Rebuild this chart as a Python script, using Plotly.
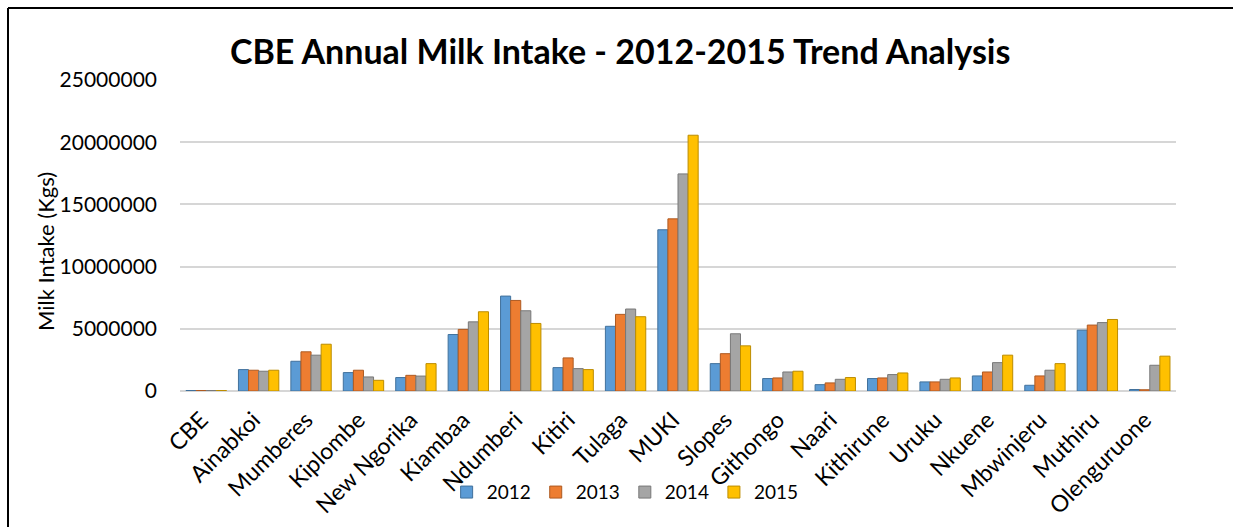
import plotly.graph_objects as go

categories = ["CBE", "Ainabkoi", "Mumberes", "Kiplombe", "New Ngorika", "Kiambaa",
              "Ndumberi", "Kitiri", "Tulaga", "MUKI", "Slopes", "Githongo", "Naari",
              "Kithirune", "Uruku", "Nkuene", "Mbwinjeru", "Muthiru", "Olenguruone"]

y2012 = [40000, 1720000, 2390000, 1480000, 1080000, 4540000, 7630000, 1880000, 5200000,
         12960000, 2200000, 1000000, 510000, 1000000, 730000, 1210000, 460000, 4890000, 120000]
y2013 = [40000, 1670000, 3150000, 1670000, 1260000, 4950000, 7280000, 2660000, 6160000,
         13840000, 3000000, 1050000, 650000, 1050000, 730000, 1530000, 1210000, 5300000, 100000]
y2014 = [40000, 1590000, 2880000, 1130000, 1200000, 5560000, 6450000, 1800000, 6590000,
         17450000, 4600000, 1530000, 940000, 1320000, 940000, 2280000, 1670000, 5500000, 2070000]
y2015 = [40000, 1670000, 3760000, 860000, 2200000, 6370000, 5430000, 1720000, 5970000,
         20560000, 3630000, 1590000, 1080000, 1450000, 1050000, 2880000, 2200000, 5750000, 2800000]

series = [("2012", y2012, "#5B9BD5", "#41719C"),
          ("2013", y2013, "#ED7D31", "#AE5A21"),
          ("2014", y2014, "#A5A5A5", "#787878"),
          ("2015", y2015, "#FFC000", "#BC8C00")]

W, H = 1233, 527
ML, MR, MT, MB = 180, 57, 80, 136
PW, PH = W - ML - MR, H - MT - MB

fig = go.Figure()
for name, vals, col, edge in series:
    fig.add_trace(go.Bar(x=categories, y=vals, name=name,
                         marker=dict(color=col, line=dict(color=edge, width=1))))

font_family = "Lato, 'Open Sans', sans-serif"

fig.update_layout(
    width=W, height=H,
    paper_bgcolor="white", plot_bgcolor="white",
    margin=dict(l=ML, r=MR, t=MT, b=MB, autoexpand=False),
    barmode="group", bargap=0.23, bargroupgap=0,
    font=dict(family=font_family, color="black"),
    title=dict(text="<b>CBE Annual Milk Intake - 2012-2015 Trend Analysis</b>",
               x=0.503, xanchor="center", y=0.901, yanchor="middle",
               font=dict(size=34, family=font_family, color="black")),
    legend=dict(orientation="h", xref="container", yref="container",
                x=0.507, xanchor="center", y=0.066, yanchor="middle",
                font=dict(size=19), itemwidth=30, traceorder="normal",
                bgcolor="rgba(0,0,0,0)"),
    showlegend=True,
    annotations=[dict(text="Milk Intake (Kgs)", textangle=-90, showarrow=False,
                      xref="paper", yref="paper",
                      x=(45 - ML) / PW, y=1 - (252 - MT) / PH,
                      xanchor="center", yanchor="middle",
                      font=dict(size=22, family=font_family, color="black"))],
)

fig.update_yaxes(range=[0, 25000000], dtick=5000000, tickformat="d", automargin=False,
                 showgrid=True, gridcolor="#D6D6D6", gridwidth=2,
                 zeroline=True, zerolinecolor="#D6D6D6", zerolinewidth=2,
                 showline=False, ticks="", ticklabelstandoff=22,
                 tickfont=dict(size=21))
fig.update_xaxes(showgrid=False, showline=False, ticks="", tickangle=-45, automargin=False,
                 zeroline=False, tickfont=dict(size=23), ticklabelshift=-5,
                 ticklabelstandoff=10)

# chart frame (top and left edges)
fig.add_shape(type="line", xref="paper", yref="paper",
              x0=(8 - ML) / PW, x1=(W + 20 - ML) / PW,
              y0=1 + (MT - 8) / PH, y1=1 + (MT - 8) / PH,
              line=dict(color="black", width=2))
fig.add_shape(type="line", xref="paper", yref="paper",
              x0=(8 - ML) / PW, x1=(8 - ML) / PW,
              y0=1 + (MT - 8) / PH, y1=-(MB + 20) / PH,
              line=dict(color="black", width=2))

fig.write_html("out.html")
